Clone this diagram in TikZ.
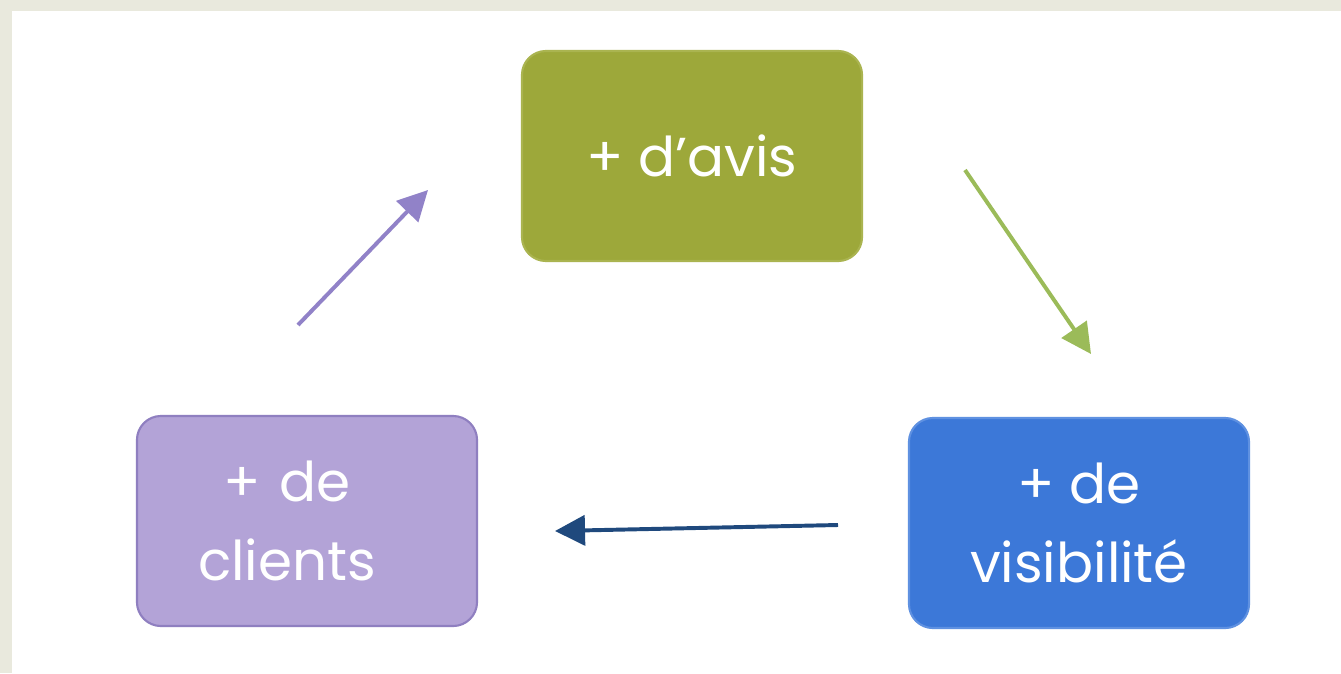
\documentclass[tikz,border=0pt]{standalone}
\usepackage{fontspec}
\setmainfont{Poppins}
\usetikzlibrary{arrows.meta}

\definecolor{frame}{RGB}{233,233,221}
\definecolor{avisgreen}{RGB}{157,168,58}
\definecolor{avisedge}{RGB}{170,180,80}
\definecolor{visblue}{RGB}{60,120,216}
\definecolor{visedge}{RGB}{95,145,225}
\definecolor{clililac}{RGB}{179,163,215}
\definecolor{cliedge}{RGB}{143,127,192}
\definecolor{arrgreen}{RGB}{155,187,89}
\definecolor{arrlilac}{RGB}{145,130,200}
\definecolor{arrnavy}{RGB}{31,73,125}

\begin{document}
\begin{tikzpicture}[x=0.025cm,y=-0.025cm,
    box/.style={rounded corners=0.6cm, line width=1.5pt, minimum width=8.5cm,
      minimum height=5.25cm, text=white, align=center,
      font=\fontsize{39}{56}\selectfont},
    cycarrow/.style={line width=2.8pt, -{Triangle[length=0.75cm,width=0.75cm]}}]
        % Background
        \fill[white] (0,0) rectangle (1341,673);
        \fill[frame] (0,0) rectangle (1341,11);
        \fill[frame] (0,0) rectangle (12,673);
        \useasboundingbox (0,0) rectangle (1341,673);

        % Boxes
        \node[box, fill=avisgreen, draw=avisedge] (avis) at (692,156) {+ d'avis};
        \node[box, fill=visblue, draw=visedge] (visib) at (1079,523) {+ de\\visibilité};
        \node[box, fill=clililac, draw=cliedge, text width=7cm] (clients) at (307,521)
          {\hspace*{-1cm}+ de\\\hspace*{-1cm}clients};

        % Arrows
        \coordinate (a1) at (298,325);
        \coordinate (a2) at (428,190);
        \coordinate (b1) at (965,170);
        \coordinate (b2) at (1091,354);
        \coordinate (c1) at (838,525);
        \coordinate (c2) at (555,531);
        \draw[cycarrow, arrlilac] (a1) -- (a2);
        \draw[cycarrow, arrgreen] (b1) -- (b2);
        \draw[cycarrow, arrnavy] (c1) -- (c2);
    \end{tikzpicture}
\end{document}
